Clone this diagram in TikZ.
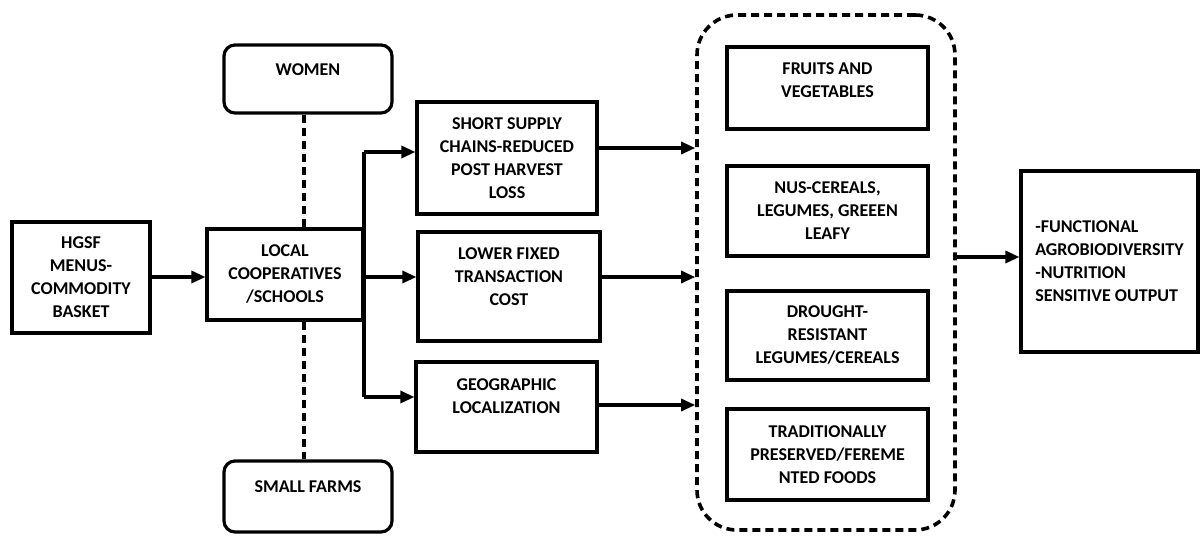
\documentclass[tikz,border=0pt]{standalone}
\usepackage{fontspec}
\setmainfont{Carlito}
\usetikzlibrary{arrows.meta}
\begin{document}
\begin{tikzpicture}[x=1bp,y=-1bp,
  every node/.style={font=\bfseries\fontsize{18bp}{23bp}\selectfont, align=center, inner sep=0pt},
  box/.style={draw, line width=3.2bp, rectangle},
  rbox/.style={draw, line width=3.2bp, rectangle, rounded corners=11bp},
  arr/.style={line width=3.2bp, -{Triangle[length=14bp,width=12bp]}},
  ln/.style={line width=3.2bp},
  dsh/.style={line width=3.6bp, dash pattern=on 8bp off 5bp}]
\useasboundingbox (0,0) rectangle (1200,540);
% left column
\node[box, minimum width=138bp, minimum height=111bp] (hgsf) at (81,277.5) {HGSF\\MENUS-\\COMMODITY\\BASKET};
\node[box, minimum width=156bp, minimum height=91bp] (local) at (285,274.5) {LOCAL\\COOPERATIVES\\/SCHOOLS};
\node[rbox, minimum width=168bp, minimum height=68bp, label={[yshift=9bp]center:WOMEN}] (women) at (308,79) {};
\node[rbox, minimum width=168bp, minimum height=71bp, label={[yshift=10bp]center:SMALL FARMS}] (small) at (308,496.5) {};
% middle column
\node[box, minimum width=180bp, minimum height=112bp] (short) at (507,158) {SHORT SUPPLY\\CHAINS-REDUCED\\POST HARVEST\\LOSS};
\node[box, minimum width=182bp, minimum height=109bp, label={[yshift=10bp]center:{LOWER FIXED\\TRANSACTION\\COST}}] (lower) at (509,286.5) {};
\node[box, minimum width=181bp, minimum height=90bp, label={[yshift=11bp]center:{GEOGRAPHIC\\LOCALIZATION}}] (geo) at (506.5,407) {};
% container
\node[draw, line width=3.6bp, dash pattern=on 8bp off 5bp, rounded corners=40bp, minimum width=258bp, minimum height=515bp] (cont) at (826,272.5) {};
\node[box, minimum width=201bp, minimum height=82bp, label={[yshift=8bp]center:{FRUITS AND\\VEGETABLES}}] (fruits) at (827.5,88) {};
\node[box, minimum width=201bp, minimum height=90bp] (nus) at (827.5,211) {NUS-CEREALS,\\LEGUMES, GREEEN\\LEAFY};
\node[box, minimum width=201bp, minimum height=89bp] (drought) at (827.5,335.5) {DROUGHT-\\RESISTANT\\LEGUMES/CEREALS};
\node[box, minimum width=201bp, minimum height=91bp] (trad) at (827.5,454.5) {TRADITIONALLY\\PRESERVED/FEREME\\NTED FOODS};
% output
\node[box, align=left, minimum width=177bp, minimum height=181bp] (func) at (1109.5,261.5) {-FUNCTIONAL\\AGROBIODIVERSITY\\-NUTRITION\\SENSITIVE OUTPUT};
% connectors
\draw[arr] (hgsf.east |- 0,277) -- (local.west |- 0,277);
\draw[arr] (local.east |- 0,277) -- (lower.west |- 0,277);
\coordinate (bt) at (364,152);
\coordinate (bb) at (364,397);
\draw[ln] (bt) -- (bb);
\draw[arr] (bt) -- (short.west |- bt);
\draw[arr] (bb) -- (geo.west |- bb);
\draw[arr] (short.east |- 0,148) -- (cont.west |- 0,148);
\draw[arr] (lower.east |- 0,277) -- (cont.west |- 0,277);
\draw[arr] (geo.east |- 0,405) -- (cont.west |- 0,405);
\draw[arr] (cont.east |- 0,257) -- (func.west |- 0,257);
\draw[dsh] (women.south -| 304,0) -- (local.north -| 304,0);
\draw[dsh] (local.south -| 304,0) -- (small.north -| 304,0);
\end{tikzpicture}
\end{document}
